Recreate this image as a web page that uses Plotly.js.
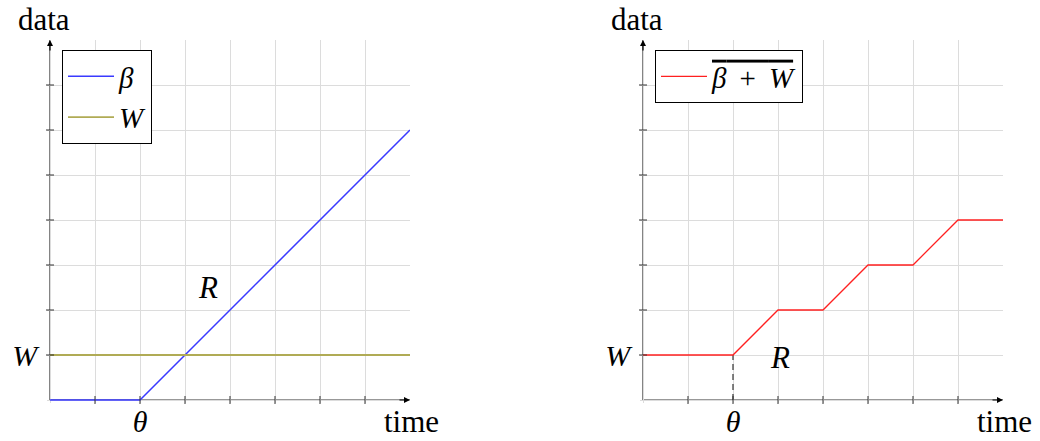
<!DOCTYPE html>
<html><head><meta charset="utf-8">
<script src="https://cdn.plot.ly/plotly-3.0.1.min.js"></script>
<style>body{margin:0}#c{width:1040px;height:441px}</style>
</head><body><div id="c"></div>
<script>
// ---- data ----
const gridVals = [0,1,2,3,4,5,6,7,8];
const thetaX = 2;
const wLevel = 1;
const betaX = [0, 2, 8];
const betaY = [0, 0, 6];
const wX = [0, 8];
const wY = [1, 1];
const sumX = [0, 2, 3, 4, 5, 6, 7, 8];
const sumY = [1, 1, 2, 2, 3, 3, 4, 4];
const rLeft = [3.5, 2.5];
const rRight = [3.05, 0.95];
const xTickText = gridVals.map(v => v === thetaX ? '<i>θ</i>' : '');
const yTickText = gridVals.map(v => v === wLevel ? '<i>W</i>' : '');

const FONT = 'Liberation Serif, DejaVu Serif, serif';
const FS = 31;
const LFS = 29;
const PAD = 0.06;           // small range padding so curves lying on an axis are not clipped
const UNIT = 45;            // px per grid unit
const AXIS_BOTTOM = 400, AXIS_LEFT = [50, 643];

const traces = [
  {x: betaX, y: betaY, xaxis:'x', yaxis:'y', mode:'lines', name:'<i>β</i>', line:{color:'#3a3aff', width:1.5}, legend:'legend'},
  {x: wX, y: wY, xaxis:'x', yaxis:'y', mode:'lines', name:'<i>W</i>', line:{color:'#b0ab55', width:1.8}, legend:'legend'},
  {x: [thetaX, thetaX], y: [0, wLevel], xaxis:'x2', yaxis:'y2', mode:'lines', showlegend:false, line:{color:'#333', width:1.2, dash:'6px,4px'}},
  {x: sumX, y: sumY, xaxis:'x2', yaxis:'y2', mode:'lines', name:'<span style="text-decoration:overline"><i>β</i>\u2009 + \u2009<i>W</i></span>', line:{color:'#ff2020', width:1.3}, legend:'legend2'}
];

function xax(left, right, anchor){
  return {domain: [(left - PAD*UNIT)/1040, right/1040], range:[-PAD,8], anchor: anchor, tickvals: gridVals, ticktext: xTickText,
    showgrid:true, gridcolor:'#dcdcdc', gridwidth:1, zeroline:false, showline:false,
    ticks:'', tickfont:{family:FONT, size:30, color:'#000'}, ticklabelstandoff:-2, fixedrange:true};
}
function yax(anchor){
  return {domain:[(441 - AXIS_BOTTOM - PAD*UNIT)/441, 401/441], range:[-PAD,8], anchor: anchor, tickvals: gridVals, ticktext: yTickText,
    showgrid:true, gridcolor:'#dcdcdc', gridwidth:1, zeroline:false, showline:false,
    ticks:'', tickfont:{family:FONT, size:30, color:'#000'}, ticklabelstandoff:9, fixedrange:true};
}

const shapes = [];
const inner = gridVals.slice(1, 8);
[['x','y'],['x2','y2']].forEach(([xa, ya], i) => {
  shapes.push({type:'line', xref:xa, yref:ya, x0:0, x1:8, y0:0, y1:0, layer:'below', line:{color:'#333', width:1.2}});
  shapes.push({type:'line', xref:xa, yref:ya, x0:0, x1:0, y0:0, y1:8, layer:'below', line:{color:'#333', width:1.2}});
  inner.forEach(v => {
    shapes.push({type:'line', xref:xa, yref:'paper', ysizemode:'pixel', yanchor:(441-AXIS_BOTTOM)/441, x0:v, x1:v, y0:-4, y1:4, layer:'above', line:{color:'#333', width:1}});
    shapes.push({type:'line', xref:'paper', yref:ya, xsizemode:'pixel', xanchor:AXIS_LEFT[i]/1040, y0:v, y1:v, x0:-4, x1:4, layer:'above', line:{color:'#333', width:1}});
  });
});

const annotations = [];
[['x','y'],['x2','y2']].forEach(([xa, ya]) => {
  annotations.push({xref:xa, yref:ya, x:8, y:0, ax:-12, ay:0, text:'', showarrow:true, arrowhead:2, arrowsize:1, arrowwidth:1.2, arrowcolor:'#000'});
  annotations.push({xref:xa, yref:ya, x:0, y:8, ax:0, ay:12, text:'', showarrow:true, arrowhead:2, arrowsize:1, arrowwidth:1.2, arrowcolor:'#000'});
  annotations.push({xref:xa, yref:'paper', x:0, y:1, xshift:-6, yshift:0, xanchor:'center', yanchor:'top', text:'data', showarrow:false, font:{family:FONT, size:FS, color:'#000'}});
  annotations.push({xref:xa, yref:'paper', x:8, y:0, yanchor:'bottom', xanchor:'center', xshift:1, yshift:0, text:'time', showarrow:false, font:{family:FONT, size:FS, color:'#000'}});
});
annotations.push({xref:'x', yref:'y', x:rLeft[0], y:rLeft[1], text:'<i>R</i>', showarrow:false, font:{family:FONT, size:FS, color:'#000'}});
annotations.push({xref:'x2', yref:'y2', x:rRight[0], y:rRight[1], text:'<i>R</i>', showarrow:false, font:{family:FONT, size:FS, color:'#000'}});

const layout = {
  width:1040, height:441, margin:{l:0,r:0,t:0,b:0},
  paper_bgcolor:'#fff', plot_bgcolor:'rgba(0,0,0,0)',
  xaxis: xax(AXIS_LEFT[0], 410, 'y'),
  yaxis: yax('x'),
  xaxis2: xax(AXIS_LEFT[1], 1003, 'y2'),
  yaxis2: yax('x2'),
  showlegend:true,
  legend:{x:62/1040, y:1-50/441, xanchor:'left', yanchor:'top', bordercolor:'#000', borderwidth:1, bgcolor:'#fff',
    font:{family:FONT, size:LFS, color:'#000'}, tracegroupgap:0, itemwidth:46},
  legend2:{x:655/1040, y:1-50/441, xanchor:'left', yanchor:'top', bordercolor:'#000', borderwidth:1, bgcolor:'#fff',
    font:{family:FONT, size:LFS, color:'#000'}, itemwidth:46},
  shapes: shapes,
  annotations: annotations
};
Plotly.newPlot('c', traces, layout, {staticPlot:true});
</script></body></html>
